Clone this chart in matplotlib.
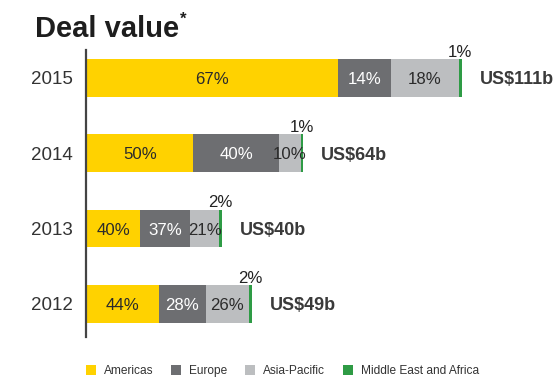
import matplotlib
matplotlib.use("Agg")
import matplotlib.pyplot as plt
from matplotlib import font_manager
import numpy as np

# data (bottom to top)
years = ["2012", "2013", "2014", "2015"]
totals = [49, 40, 64, 111]  # US$ billions
total_labels = ["US$49b", "US$40b", "US$64b", "US$111b"]
regions = ["Americas", "Europe", "Asia-Pacific", "Middle East and Africa"]
americas = [44, 40, 50, 67]
europe = [28, 37, 40, 14]
asia_pacific = [26, 21, 10, 18]
mea = [2, 2, 1, 1]

colors = ["#FFD200", "#6D6E71", "#BCBEC0", "#2E9B45"]
text_colors = ["#2b2b2b", "white", "#2b2b2b", "#2b2b2b"]


def have_font(name):
    try:
        font_manager.findfont(font_manager.FontProperties(family=name),
                              fallback_to_default=False)
        return True
    except ValueError:
        return False


if have_font("Liberation Sans Narrow"):
    narrow, nscale = "Liberation Sans Narrow", 1.12
else:
    narrow, nscale = "Liberation Sans", 0.9
regular = "Liberation Sans"

W, H = 558, 379
fig = plt.figure(figsize=(W / 100, H / 100), dpi=100)
ax = fig.add_axes([86 / W, 42 / H, (W - 86) / W, 287 / H])

shares = np.array([americas, europe, asia_pacific, mea], dtype=float)
shares = shares / shares.sum(axis=0)
widths = shares * np.array(totals, dtype=float)
y = np.arange(len(years))
left = np.zeros(len(years))
bars = []
for k in range(len(regions)):
    b = ax.barh(y, widths[k], left=left, height=0.5, color=colors[k],
                edgecolor="none", label=regions[k])
    bars.append(b)
    pcts = [americas, europe, asia_pacific, mea][k]
    for i in range(len(years)):
        cx = left[i] + widths[k][i] / 2
        if k < 3:
            ax.text(cx, y[i], f"{pcts[i]}%", ha="center", va="center_baseline",
                    fontsize=13.4 * nscale, family=narrow, color=text_colors[k])
        else:
            ax.text(cx, y[i] + 0.28, f"{pcts[i]}%", ha="center", va="baseline",
                    fontsize=13.4 * nscale, family=narrow, color="#222222")
    left = left + widths[k]

for i in range(len(years)):
    ax.annotate(total_labels[i], xy=(left[i], y[i]), xytext=(13, 0),
                textcoords="offset points", va="center_baseline", ha="left",
                fontsize=13, fontweight="bold", family=regular, color="#3a3a3a")

ax.set_xlim(0, (W - 86) / 3.39)
ax.set_ylim(-0.44, 3.37)
ax.set_yticks(y, years)
ax.tick_params(axis="y", length=0, pad=9.5, labelsize=13.5, labelcolor="#333333")
for lab in ax.get_yticklabels():
    lab.set_family(regular)
ax.set_xticks([])
for s in ["top", "right", "bottom"]:
    ax.spines[s].set_visible(False)
ax.spines["left"].set_color("#444444")
ax.spines["left"].set_linewidth(1.6)
ax.patch.set_alpha(0)

title = fig.text(35 / W, 1 - 37 / H, "Deal value", fontsize=21,
                 fontweight="bold", family=regular, va="baseline", color="#1e1e1e")
fig.canvas.draw()
bb = title.get_window_extent()
fig.text((bb.x1 + 1) / W, 1 - 12 / H, "*", fontsize=12, fontweight="bold",
         family=regular, va="top", ha="left", color="#1e1e1e")

fig.legend(bars, regions, loc="center left", bbox_to_anchor=(86 / W, 1 - 371 / H),
           ncol=4, frameon=False, prop=dict(family=regular, size=8.6),
           labelcolor="#333333", handlelength=0.84, handleheight=0.84,
           handletextpad=0.66, columnspacing=1.5, borderpad=0, borderaxespad=0)

fig.savefig("out.png", dpi=100)
